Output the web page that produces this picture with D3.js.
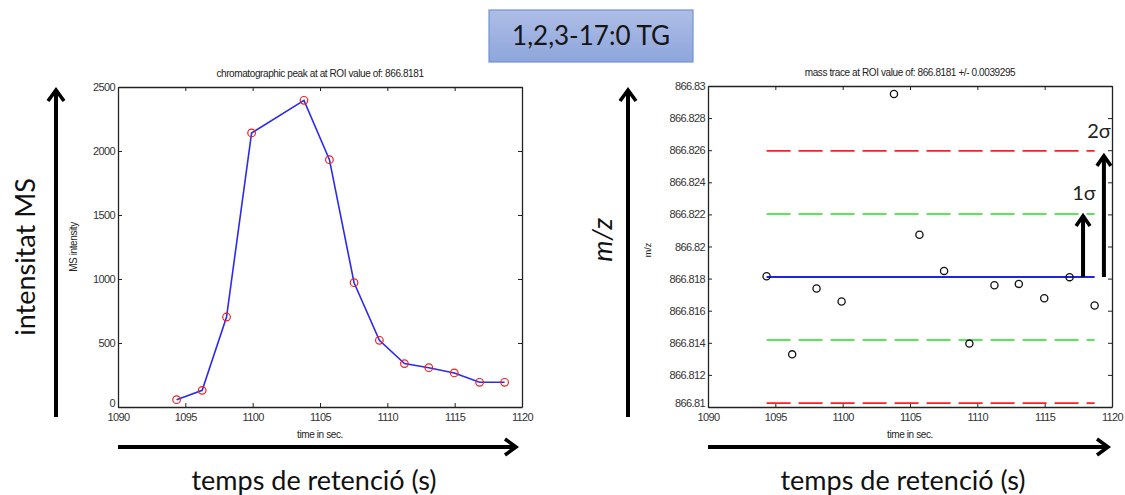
<!DOCTYPE html>
<html><head><meta charset="utf-8">
<script src="https://cdn.jsdelivr.net/npm/d3@7"></script>
<style>body{margin:0;background:#fff}svg{display:block}</style>
</head><body>
<svg id="c" width="1125" height="495"></svg>
<script>
const times = [1094.35,1096.25,1098.06,1099.92,1103.81,1105.70,1107.53,1109.41,1111.27,1113.08,1114.97,1116.85,1118.71];
const intensity = [57,130,703,2141,2396,1932,971,521,339,307,266,193,193];
const mz = [866.81815,866.81328,866.81738,866.81657,866.8295,866.82073,866.81848,866.81395,866.81759,866.81767,866.81678,866.81809,866.81632];
const roiMz = 866.8181;
const sigma = 0.0039295;
const xTicks = [1090,1095,1100,1105,1110,1115,1120];
const yTicksL = [0,500,1000,1500,2000,2500];
const yTicksR = [866.81,866.812,866.814,866.816,866.818,866.82,866.822,866.824,866.826,866.828,866.83];

const svg = d3.select("#c");
const defs = svg.append("defs");
const grad = defs.append("linearGradient").attr("id","g").attr("x1",0).attr("y1",0).attr("x2",0).attr("y2",1);
grad.append("stop").attr("offset","0").attr("stop-color","#aebde6");
grad.append("stop").attr("offset","1").attr("stop-color","#8ea6dc");
function mk(id, w, h){
  defs.append("marker").attr("id",id).attr("viewBox",`-${w+2} -${h+2} ${w+6} ${2*h+4}`)
    .attr("markerUnits","userSpaceOnUse").attr("markerWidth",w+6).attr("markerHeight",2*h+4)
    .attr("refX",0).attr("refY",0).attr("orient","auto")
    .append("path").attr("d",`M${-w},${-h} L0,0 L${-w},${h}`)
    .attr("fill","none").attr("stroke","#000").attr("stroke-width",3.6).attr("stroke-linejoin","miter");
}
mk("ah",11,8);
mk("ahs",10,7);

// title box
svg.append("rect").attr("x",489).attr("y",10).attr("width",204).attr("height",52)
  .attr("fill","url(#g)").attr("stroke","#7393d3").attr("stroke-width",1.2);
svg.append("text").attr("x",591).attr("y",45).attr("text-anchor","middle")
  .attr("font-family","Lato, 'Open Sans', sans-serif").attr("font-size",26).attr("fill","#151515")
  .text("1,2,3-17:0 TG");

const tickFont = "'Liberation Sans', Arial, sans-serif";

function frame(x, y, yTicks, fmt, title, xlab){
  const g = svg.append("g");
  const [x0,x1] = x.range(), [y0,y1] = y.range();
  const ax = (axis, tr, labels) => {
    const a = g.append("g").attr("transform",tr).call(axis);
    a.select(".domain").attr("stroke","#222").attr("stroke-width",1.3);
    a.selectAll(".tick line").attr("stroke","#222").attr("stroke-width",1);
    a.selectAll("text").attr("font-family",tickFont).attr("font-size",11).attr("fill","#333").attr("letter-spacing",-0.6);
    if(!labels) a.selectAll("text").remove();
    return a;
  };
  ax(d3.axisBottom(x).tickValues(xTicks).tickFormat(d3.format("d")).tickSizeInner(-4).tickSizeOuter(0).tickPadding(6), `translate(0,${y0})`, true);
  ax(d3.axisTop(x).tickValues(xTicks).tickSizeInner(-4).tickSizeOuter(0), `translate(0,${y1})`, false);
  const ya = ax(d3.axisLeft(y).tickValues(yTicks).tickFormat(fmt).tickSizeInner(-4).tickSizeOuter(0).tickPadding(3), `translate(${x0},0)`, true);
  ya.selectAll(".tick").filter((d,i)=>i===0).select("text").attr("dy","-0.05em");
  ax(d3.axisRight(y).tickValues(yTicks).tickSizeInner(-4).tickSizeOuter(0), `translate(${x1},0)`, false);
  g.append("text").attr("x",(x0+x1)/2).attr("y",y1-10).attr("text-anchor","middle")
    .attr("font-family",tickFont).attr("font-size",10).attr("fill","#222").attr("letter-spacing",-0.4).text(title);
  g.append("text").attr("x",(x0+x1)/2).attr("y",y0+31).attr("text-anchor","middle")
    .attr("font-family",tickFont).attr("font-size",10).attr("fill","#222").attr("letter-spacing",-0.4).text(xlab);
  return g;
}

// left chart
const xL = d3.scaleLinear([1090,1120],[118,522]);
const yL = d3.scaleLinear([0,2500],[407,87]);
frame(xL, yL, yTicksL, d3.format("d"), "chromatographic peak at at ROI value of: 866.8181", "time in sec.");
svg.append("text").attr("transform","translate(77,247) rotate(-90)").attr("text-anchor","middle")
  .attr("font-family",tickFont).attr("font-size",10).attr("fill","#222").attr("letter-spacing",-0.4).text("MS intensity");
svg.append("path").datum(times.map((t,i)=>[t,intensity[i]]))
  .attr("d", d3.line().x(d=>xL(d[0])).y(d=>yL(d[1])))
  .attr("fill","none").attr("stroke","#2b2bf0").attr("stroke-width",1.6);
svg.append("g").selectAll("circle").data(times).join("circle")
  .attr("cx",d=>xL(d)).attr("cy",(d,i)=>yL(intensity[i])).attr("r",3.8)
  .attr("fill","none").attr("stroke","#f02020").attr("stroke-width",1.2);

// right chart
const xR = d3.scaleLinear([1090,1120],[708,1112]);
const yR = d3.scaleLinear([866.81,866.83],[407,86]);
frame(xR, yR, yTicksR, d=>d3.format(".3f")(d).replace(/0+$/,""), "mass trace at ROI value of: 866.8181 +/- 0.0039295", "time in sec.");
svg.append("text").attr("transform","translate(651,250) rotate(-90)").attr("text-anchor","middle")
  .attr("font-family",tickFont).attr("font-size",9).attr("fill","#222").text("m/z");
const tMin = d3.min(times), tMax = d3.max(times);
const bands = [
  {v: roiMz + 2*sigma, c:"#ff2020"},
  {v: roiMz + sigma, c:"#20e020"},
  {v: roiMz - sigma, c:"#20e020"},
  {v: roiMz - 2*sigma, c:"#ff2020"}
];
svg.append("g").selectAll("line").data(bands).join("line")
  .attr("x1",xR(tMin)).attr("x2",xR(tMax)).attr("y1",d=>yR(d.v)).attr("y2",d=>yR(d.v))
  .attr("stroke",d=>d.c).attr("stroke-width",1.6).attr("stroke-dasharray","24,8");
svg.append("line").attr("x1",xR(tMin)).attr("x2",xR(tMax)).attr("y1",yR(roiMz)).attr("y2",yR(roiMz))
  .attr("stroke","#2020f0").attr("stroke-width",1.8);
svg.append("g").selectAll("circle").data(times).join("circle")
  .attr("cx",d=>xR(d)).attr("cy",(d,i)=>yR(mz[i])).attr("r",3.6)
  .attr("fill","none").attr("stroke","#111").attr("stroke-width",1.3);

// sigma arrows
const sx1 = xR(1117.85), sx2 = xR(1119.4);
svg.append("line").attr("x1",sx1).attr("x2",sx1).attr("y1",yR(roiMz)).attr("y2",yR(roiMz+sigma)+2)
  .attr("stroke","#000").attr("stroke-width",4).attr("marker-end","url(#ahs)");
svg.append("line").attr("x1",sx2).attr("x2",sx2).attr("y1",yR(roiMz)).attr("y2",yR(roiMz+2*sigma)+5)
  .attr("stroke","#000").attr("stroke-width",4).attr("marker-end","url(#ahs)");
svg.append("text").attr("x",sx1+1).attr("y",yR(roiMz+sigma)-14).attr("text-anchor","middle")
  .attr("font-family","Lato, 'Open Sans', sans-serif").attr("font-size",20).attr("fill","#222").text("1σ");
svg.append("text").attr("x",sx2-5).attr("y",yR(roiMz+2*sigma)-13).attr("text-anchor","middle")
  .attr("font-family","Lato, 'Open Sans', sans-serif").attr("font-size",20).attr("fill","#222").text("2σ");

// big annotation arrows
const big = [
  [56,417,56,90],[628,417,628,90],[118,447,516,447],[708,447,1108,447]
];
svg.append("g").selectAll("line").data(big).join("line")
  .attr("x1",d=>d[0]).attr("y1",d=>d[1]).attr("x2",d=>d[2]).attr("y2",d=>d[3])
  .attr("stroke","#000").attr("stroke-width",4).attr("marker-end","url(#ah)");
const lab = "Lato, 'Open Sans', sans-serif";
svg.append("text").attr("transform","translate(35,257) rotate(-90)").attr("text-anchor","middle")
  .attr("font-family",lab).attr("font-size",27).attr("fill","#111").text("intensitat MS");
svg.append("text").attr("transform","translate(612,240) rotate(-90)").attr("text-anchor","middle")
  .attr("font-family",lab).attr("font-style","italic").attr("font-size",27).attr("fill","#111").text("m/z");
svg.append("text").attr("x",314).attr("y",490).attr("text-anchor","middle")
  .attr("font-family",lab).attr("font-size",27).attr("fill","#111").text("temps de retenció (s)");
svg.append("text").attr("x",903).attr("y",490).attr("text-anchor","middle")
  .attr("font-family",lab).attr("font-size",27).attr("fill","#111").text("temps de retenció (s)");
</script>
</body></html>
